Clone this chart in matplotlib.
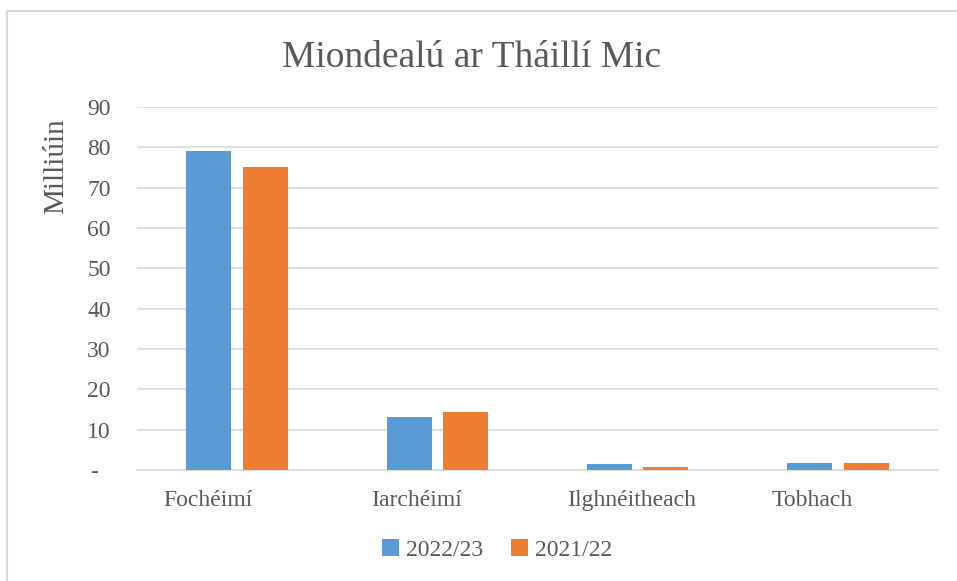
import matplotlib.pyplot as plt
import numpy as np
from matplotlib.patches import Rectangle
from matplotlib.transforms import offset_copy

plt.rcParams['font.family'] = ['Liberation Serif', 'DejaVu Serif']

categories = ["Fochéimí", "Iarchéimí", "Ilghnéitheach", "Tobhach"]
series_names = ["2022/23", "2021/22"]
vals_2022 = [79.0, 13.2, 1.6, 1.8]
vals_2021 = [75.0, 14.4, 0.8, 1.8]
yticks = [0, 10, 20, 30, 40, 50, 60, 70, 80, 90]
ytick_labels = ["-", "10", "20", "30", "40", "50", "60", "70", "80", "90"]

text_col = "#595959"
blue = "#5B9BD5"
orange = "#ED7D31"

fig = plt.figure(figsize=(9.57, 5.81), dpi=100)
ax = fig.add_axes([0.1432, 0.191, 0.837, 0.625])

# chart border (only top/left visible in the crop)
fig.patches.append(Rectangle((7 / 957, -0.2), 1.2, 1.2 - 11 / 581, transform=fig.transFigure,
                             fill=False, edgecolor="#D9D9D9", linewidth=1.5))

x = np.arange(len(categories))
w = 0.225
ax.bar(x - 0.141, vals_2022, w, color=blue, label=series_names[0], zorder=3)
ax.bar(x + 0.141, vals_2021, w, color=orange, label=series_names[1], zorder=3)

ax.set_xlim(-0.5, len(categories) - 0.5)
ax.set_ylim(0, 90)
ax.set_yticks(yticks)
ax.set_yticklabels(ytick_labels)
ax.set_xticks(x)
ax.set_xticklabels([])
ax.tick_params(axis="both", length=0, labelsize=17, colors=text_col)
ax.tick_params(axis="y", pad=19)
ax.yaxis.grid(True, color="#D9D9D9", linewidth=1.2, zorder=0)
for s in ["top", "right", "left"]:
    ax.spines[s].set_visible(False)
ax.spines["bottom"].set_color("#D9D9D9")
ax.spines["bottom"].set_linewidth(1.2)

# category labels, left-aligned a bit inside each slot
label_shift = [-0.37, -0.33, -0.35, -0.33]
for i, cat in enumerate(categories):
    ax.text(i + label_shift[i], -5.0, cat, ha="left", va="top", fontsize=17, color=text_col)

fig.text(56 / 957, 1 - 166 / 581, "Milliúin", rotation=90, ha="center", va="center",
         fontsize=21, color=text_col)
fig.text(0.493, 1 - 67 / 581, "Miondealú ar Tháillí Mic", ha="center", va="baseline",
         fontsize=27, color=text_col)

ax.legend(loc="center", bbox_to_anchor=(497 / 957, 1 - 550 / 581), bbox_transform=fig.transFigure,
          ncol=2, frameon=False, fontsize=17, handlelength=0.7, handleheight=0.7,
          handletextpad=0.3, columnspacing=1.2, labelcolor=text_col)

fig.canvas.draw()
lab0 = ax.get_yticklabels()[0]
lab0.set_transform(offset_copy(lab0.get_transform(), fig=fig, x=-13, y=0, units="dots"))

fig.savefig("out.png", dpi=100)
